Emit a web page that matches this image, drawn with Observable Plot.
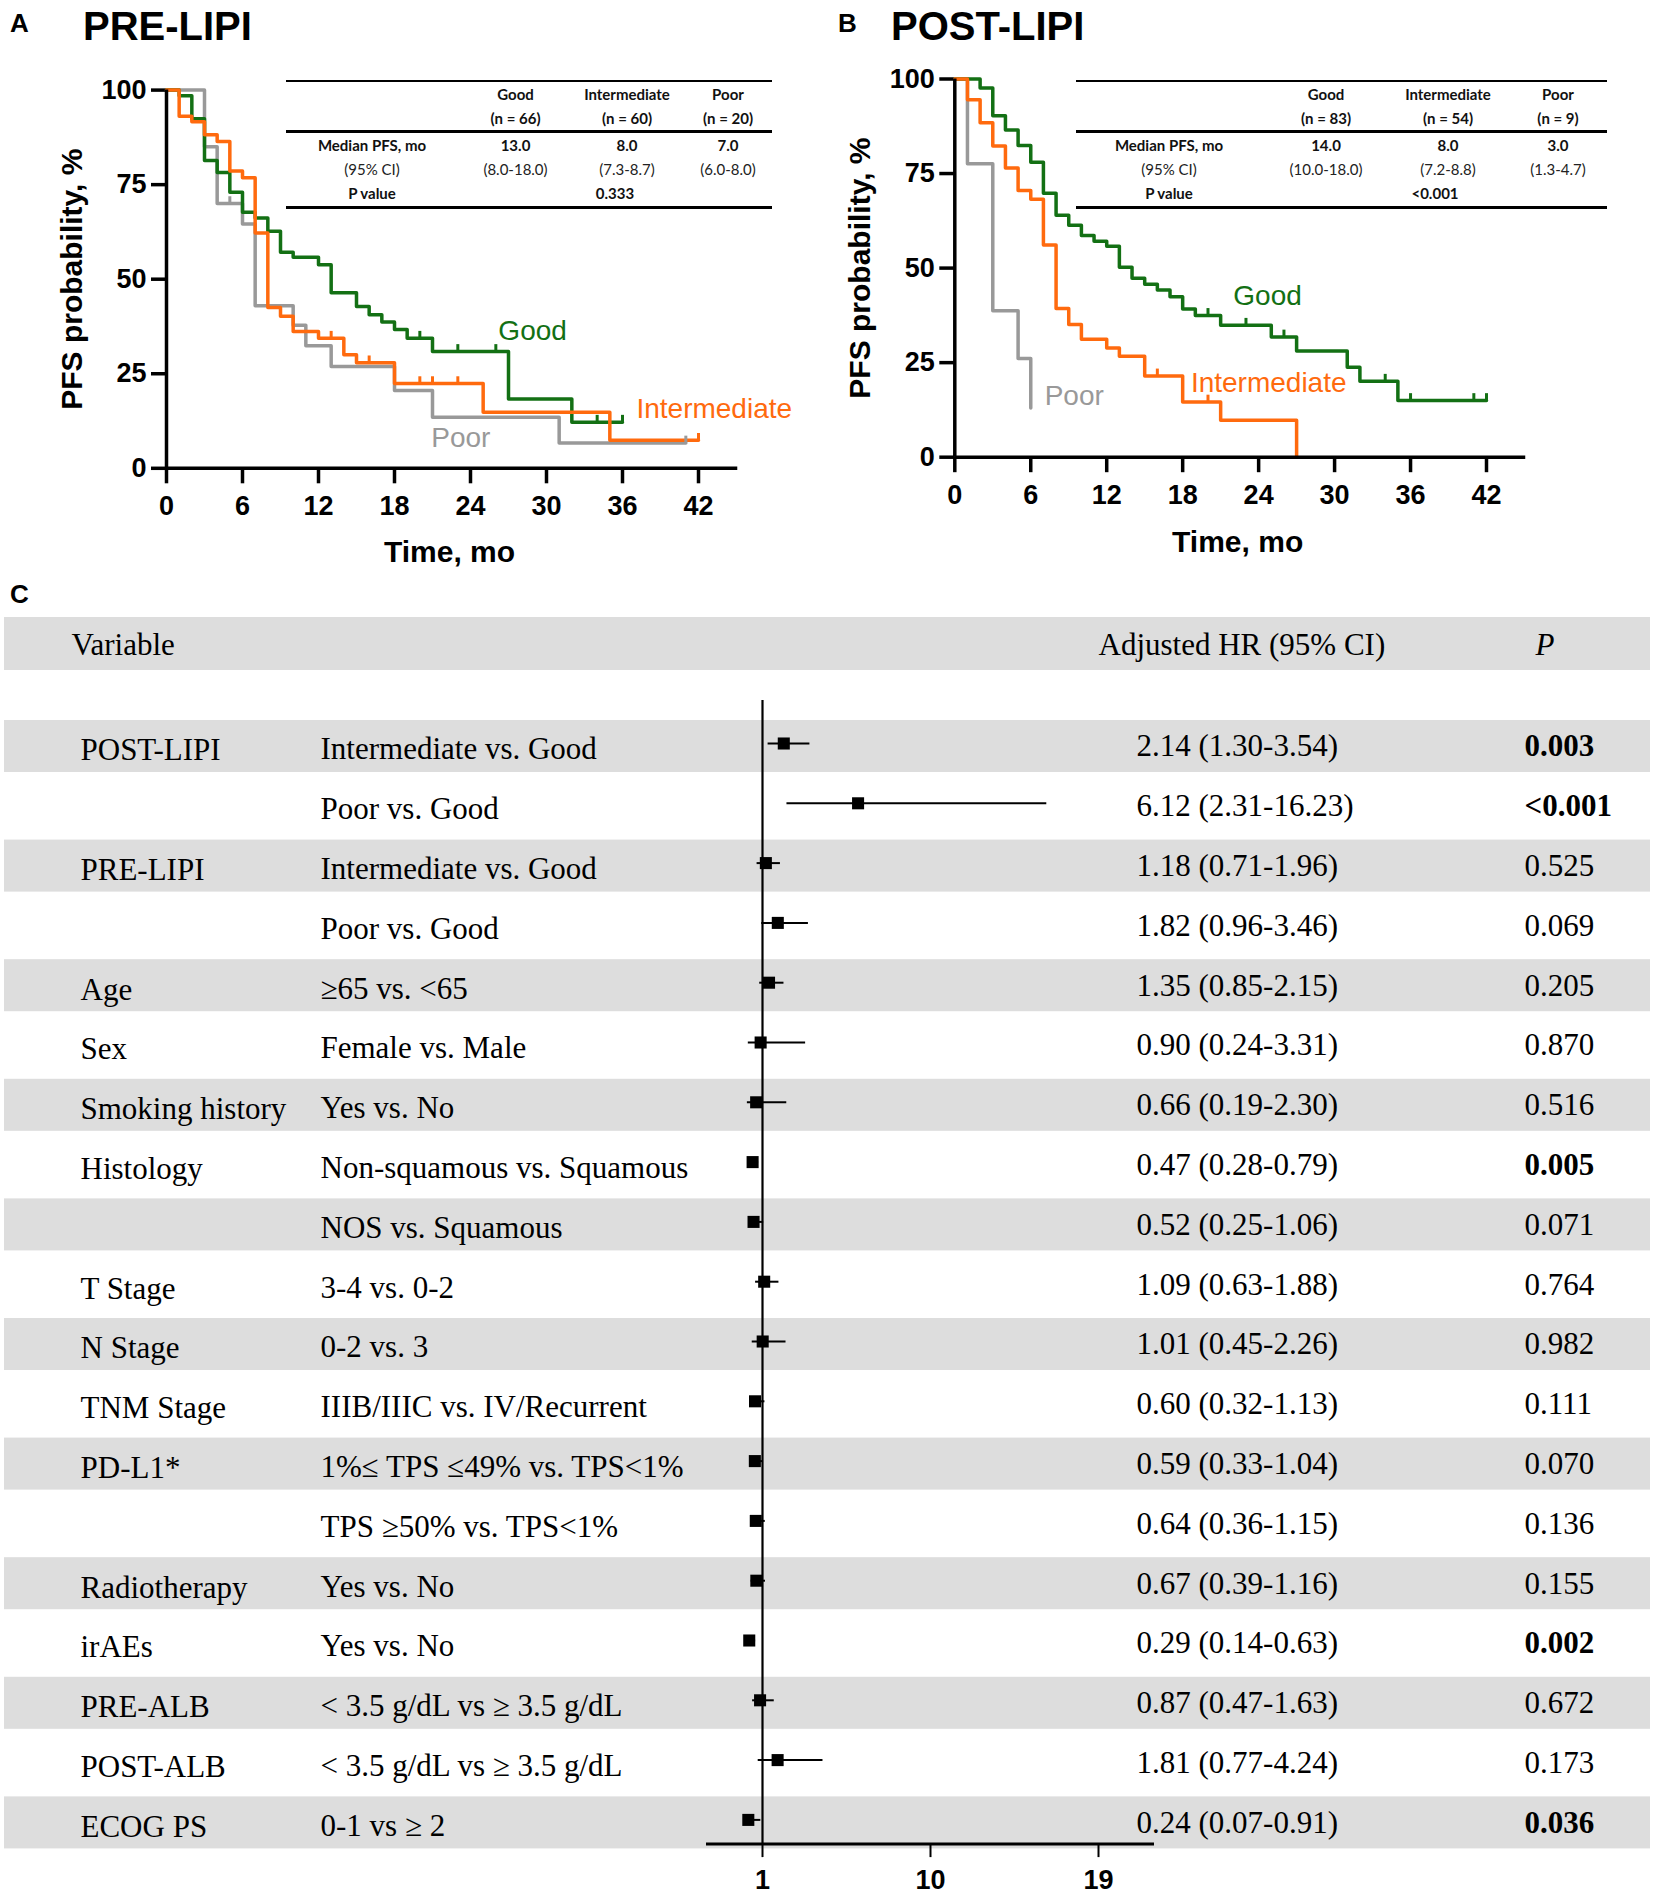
<!DOCTYPE html>
<html><head><meta charset="utf-8">
<script src="https://cdn.jsdelivr.net/npm/d3@7"></script>
<script src="https://cdn.jsdelivr.net/npm/@observablehq/plot@0.6"></script>
<style>
body{margin:0;background:#fff;}
#page{position:relative;width:1654px;height:1894px;overflow:hidden;background:#fff;}
.abs{position:absolute;white-space:nowrap;line-height:1.15;}
.wrap{position:absolute;}
.wrap svg{background:transparent !important;overflow:visible;}
.hline{position:absolute;background:#000;}
</style></head><body><div id="page"></div>
<script>
// ================= DATA =================
const kmGroups = ["Good", "Intermediate", "Poor"];

// Panel A: PRE-LIPI Kaplan-Meier steps (time in months, PFS %)
const preGoodTime = [0,1,2,3,4,5,6,7,8,9,10,12,13,15,16,17,18,19,21,27,32,36];
const preGoodSurv = [100,98.5,92.4,81.4,78.2,73.0,67.7,66.2,62.7,57.1,55.8,53.8,46.4,42.8,40.6,38.7,36.7,34.4,30.9,18.3,12.2,12.2];
const preGoodCensor = [20,23,26,34,36];
const preIntTime = [0,1,2,3,4,5,6,7,8,9,10,12,14,15,18,25,35,42];
const preIntSurv = [100,93.1,91.6,88.2,86.4,78.6,76.8,62.2,42.5,40.2,36.2,34.4,30.0,27.9,22.4,14.8,7.4,7.4];
const preIntCensor = [13,16,20,21,23,42];
const prePoorTime = [0,3,4,6,7,10,11,13,18,21,31,41];
const prePoorSurv = [100,85.0,70.0,64.6,43.0,37.8,32.4,26.9,20.6,13.5,6.7,6.7];
const prePoorCensor = [5,41];

// Panel B: POST-LIPI
const postGoodTime = [0,2,3,4,5,6,7,8,9,10,11,12,13,14,15,16,17,18,19,21,25,27,31,32,35,42];
const postGoodSurv = [100,97.6,90.3,86.5,82.4,78.0,69.8,64.0,61.3,58.6,57.1,55.8,50.2,47.3,45.7,44.2,42.4,39.2,37.5,34.9,31.8,28.1,23.8,20.1,15.0,15.0];
const postGoodCensor = [20,23,26,34,36,41,42];
const postIntTime = [0,1,2,3,4,5,6,7,8,9,10,12,13,15,18,21,27];
const postIntSurv = [100,94.5,88.4,82.3,76.5,70.5,68.2,56.1,39.3,35.1,31.2,28.9,26.7,21.5,14.6,9.8,0];
const postIntCensor = [16,20];
const postPoorTime = [0,1,3,5,6];
const postPoorSurv = [100,77.6,38.7,26.1,13.0];
const postPoorCensor = [];

// Summary tables
const preN = [66, 60, 20];
const preMedian = ["13.0", "8.0", "7.0"];
const preCI = ["(8.0-18.0)", "(7.3-8.7)", "(6.0-8.0)"];
const preP = "0.333";
const postN = [83, 54, 9];
const postMedian = ["14.0", "8.0", "3.0"];
const postCI = ["(10.0-18.0)", "(7.2-8.8)", "(1.3-4.7)"];
const postP = "<0.001";

// Panel C: multivariable Cox model
const fVariable = ["POST-LIPI","","PRE-LIPI","","Age","Sex","Smoking history","Histology","","T Stage","N Stage","TNM Stage","PD-L1*","","Radiotherapy","irAEs","PRE-ALB","POST-ALB","ECOG PS"];
const fComparison = ["Intermediate vs. Good","Poor vs. Good","Intermediate vs. Good","Poor vs. Good","≥65 vs. <65","Female vs. Male","Yes vs. No","Non-squamous vs. Squamous","NOS vs. Squamous","3-4 vs. 0-2","0-2 vs. 3","IIIB/IIIC vs. IV/Recurrent","1%≤ TPS ≤49% vs. TPS<1%","TPS ≥50% vs. TPS<1%","Yes vs. No","Yes vs. No","< 3.5 g/dL vs ≥ 3.5 g/dL","< 3.5 g/dL vs ≥ 3.5 g/dL","0-1 vs ≥ 2"];
const fHR = [2.14,6.12,1.18,1.82,1.35,0.90,0.66,0.47,0.52,1.09,1.01,0.60,0.59,0.64,0.67,0.29,0.87,1.81,0.24];
const fLow = [1.30,2.31,0.71,0.96,0.85,0.24,0.19,0.28,0.25,0.63,0.45,0.32,0.33,0.36,0.39,0.14,0.47,0.77,0.07];
const fHigh = [3.54,16.23,1.96,3.46,2.15,3.31,2.30,0.79,1.06,1.88,2.26,1.13,1.04,1.15,1.16,0.63,1.63,4.24,0.91];
const fP = ["0.003","<0.001","0.525","0.069","0.205","0.870","0.516","0.005","0.071","0.764","0.982","0.111","0.070","0.136","0.155","0.002","0.672","0.173","0.036"];
const forestTicks = [1, 10, 19];
const kmTicksX = [0,6,12,18,24,30,36,42];
const kmTicksY = [0,25,50,75,100];

// ================= STYLE / LAYOUT =================
const SANS = "Liberation Sans, Arial, Helvetica, sans-serif";
const SERIF = "Liberation Serif, Times New Roman, serif";
const TABLEFONT = "Lato, 'Open Sans', sans-serif";
const kmColors = ["#137014", "#ff6a0e", "#999999"];
const page = document.getElementById("page");

function place(text, x, y, css, anchor = "middle") {
  const d = document.createElement("div");
  d.className = "abs";
  d.textContent = text;
  d.style.left = x + "px";
  d.style.top = y + "px";
  const tx = anchor === "middle" ? "-50%" : anchor === "end" ? "-100%" : "0";
  d.style.transform = `translate(${tx},-50%)`;
  Object.assign(d.style, css);
  page.appendChild(d);
  return d;
}
function hline(x1, x2, y, w) {
  const d = document.createElement("div");
  d.className = "hline";
  Object.assign(d.style, {left: x1 + "px", top: (y - w / 2) + "px", width: (x2 - x1) + "px", height: w + "px"});
  page.appendChild(d);
}

function steps(group, T, S) { return T.map((t, i) => ({group, t, s: S[i]})); }
function censorPts(group, C, T, S) {
  return C.map(t => { let k = 0; T.forEach((tt, i) => { if (tt <= t) k = i; }); return {group, t, s: S[k]}; });
}

function kmPlot(cfg) {
  const {series, censors, labels, m, axisEnd, ylabDx, xlabDx, xlabDy} = cfg;
  return Plot.plot({
    width: 827, height: 580,
    marginLeft: m[0], marginRight: m[1], marginTop: m[2], marginBottom: m[3],
    x: {domain: [0, 42]},
    y: {domain: [0, 100]},
    color: {domain: kmGroups, range: kmColors},
    style: {background: "transparent", overflow: "visible"},
    marks: [
      Plot.axisX({ticks: kmTicksX, tickSize: 15.5, tickPadding: 12, fontSize: 27, fontWeight: "bold", fontFamily: SANS, strokeWidth: 3.5, label: null}),
      Plot.axisY({ticks: kmTicksY, tickSize: 15, tickPadding: 5, fontSize: 27, fontWeight: "bold", fontFamily: SANS, strokeWidth: 3.5, label: null}),
      Plot.line(series, {x: "t", y: "s", z: "group", stroke: "group", curve: "step-after", strokeWidth: 3.5}),
      Plot.ruleX(censors, {x: "t", y1: "s", y2: d => d.s + 1.8, stroke: "group", strokeWidth: 3}),
      Plot.ruleY([0], {x1: 0, x2: axisEnd, strokeWidth: 3.5}),
      Plot.ruleX([0], {y1: 0, y2: 100, strokeWidth: 3.5}),
      Plot.text(labels, {x: "x", y: "y", text: "group", fill: "group", textAnchor: "start", fontSize: 28, fontFamily: SANS}),
      Plot.text(["Time, mo"], {text: d => d, frameAnchor: "bottom", dx: xlabDx, dy: xlabDy, textAnchor: "middle", fontSize: 30, fontWeight: "bold", fontFamily: SANS, lineAnchor: "middle"}),
      Plot.text(["PFS probability, %"], {text: d => d, frameAnchor: "left", dx: ylabDx, rotate: -90, textAnchor: "middle", lineAnchor: "middle", fontSize: 30, fontWeight: "bold", fontFamily: SANS})
    ]
  });
}

function addPlot(svg, left, top) {
  const w = document.createElement("div");
  w.className = "wrap";
  w.style.left = left + "px"; w.style.top = top + "px";
  w.appendChild(svg);
  page.appendChild(w);
}

// ---------- Panel A ----------
const preSeries = [...steps("Poor", prePoorTime, prePoorSurv), ...steps("Good", preGoodTime, preGoodSurv), ...steps("Intermediate", preIntTime, preIntSurv)];
const preCensors = [...censorPts("Poor", prePoorCensor, prePoorTime, prePoorSurv), ...censorPts("Good", preGoodCensor, preGoodTime, preGoodSurv), ...censorPts("Intermediate", preIntCensor, preIntTime, preIntSurv)];
addPlot(kmPlot({
  series: preSeries, censors: preCensors,
  labels: [{group: "Good", x: 26.2, y: 36.4}, {group: "Intermediate", x: 37.1, y: 15.8}, {group: "Poor", x: 20.9, y: 8.0}],
  m: [166, 129, 89.6, 112.2], axisEnd: 45.1, ylabDx: -94.4, xlabDx: 17, xlabDy: 84
}), 0, 0);

// ---------- Panel B ----------
const postSeries = [...steps("Poor", postPoorTime, postPoorSurv), ...steps("Good", postGoodTime, postGoodSurv), ...steps("Intermediate", postIntTime, postIntSurv)];
const postCensors = [...censorPts("Good", postGoodCensor, postGoodTime, postGoodSurv), ...censorPts("Intermediate", postIntCensor, postIntTime, postIntSurv)];
addPlot(kmPlot({
  series: postSeries, censors: postCensors,
  labels: [{group: "Good", x: 22.0, y: 42.6}, {group: "Intermediate", x: 18.65, y: 19.6}, {group: "Poor", x: 7.1, y: 16.3}],
  m: [127.3, 168, 78.5, 123.3], axisEnd: 45.1, ylabDx: -94.4, xlabDx: 17, xlabDy: 84.8
}), 827, 0);

// Titles
const titleCss = {fontFamily: SANS, fontWeight: "bold", color: "#000"};
place("A", 10, 24, {...titleCss, fontSize: "26px"}, "start");
place("PRE-LIPI", 83, 26, {...titleCss, fontSize: "40px"}, "start");
place("B", 838, 24, {...titleCss, fontSize: "26px"}, "start");
place("POST-LIPI", 891, 26, {...titleCss, fontSize: "40px"}, "start");
place("C", 10, 595, {...titleCss, fontSize: "26px"}, "start");

// KM summary tables
function kmTable(x1, x2, colX, labelX, pX, n, med, ci, p) {
  hline(x1, x2, 81, 2.6); hline(x1, x2, 131.5, 2.2); hline(x1, x2, 207.5, 2.6);
  const b = {fontFamily: TABLEFONT, fontSize: "15px", fontWeight: "bold", color: "#111"};
  const r = {fontFamily: TABLEFONT, fontSize: "15px", fontWeight: "normal", color: "#222"};
  kmGroups.forEach((g, i) => {
    place(g, colX[i], 95, b);
    place(`(n = ${n[i]})`, colX[i], 118.5, b);
    place(med[i], colX[i], 146, b);
    place(ci[i], colX[i], 170, r);
  });
  place("Median PFS, mo", labelX, 146, b);
  place("(95% CI)", labelX, 170, r);
  place("P value", labelX, 194, b);
  place(p, pX, 194, b);
}
kmTable(286, 772, [515.5, 627, 728], 372, 615, preN, preMedian, preCI, preP);
kmTable(1076, 1607, [1326, 1448, 1558], 1169, 1435, postN, postMedian, postCI, postP);

// ---------- Panel C ----------
const cTop = 600, cH = 1294, rowStart = 146, pitch = 59.8;
const rowOf = px => (px - cTop - rowStart) / pitch;
const rows = fHR.map((hr, i) => ({i, variable: fVariable[i], comparison: fComparison[i], hr, lo: fLow[i], hi: fHigh[i],
  hrText: `${hr.toFixed(2)} (${fLow[i].toFixed(2)}-${fHigh[i].toFixed(2)})`, p: fP[i], sig: parseFloat(fP[i].replace("<", "")) < 0.05}));
const bandRows = rows.filter(d => d.i % 2 === 0);
const axisRow = rowOf(1843.6);
const headRow = rowOf(644.8);
const serifText = {fontFamily: SERIF, fontSize: 31, fill: "#000", lineAnchor: "middle", textAnchor: "start", frameAnchor: "left"};

const forest = Plot.plot({
  width: 1654, height: cH,
  marginLeft: 4, marginRight: 4, marginTop: 17, marginBottom: cH - (1843.6 - cTop),
  x: {domain: [-2, 22], range: [706, 1154]},
  y: {domain: [0, 18], range: [rowStart, rowStart + 18 * pitch], axis: null},
  style: {background: "transparent", overflow: "visible"},
  marks: [
    Plot.rect([0], {y1: rowOf(617), y2: rowOf(670), fill: "#dddddd"}),
    Plot.rect(bandRows, {y1: d => d.i - 0.435, y2: d => d.i + 0.435, fill: "#dddddd"}),
    Plot.text(["Variable"], {...serifText, text: d => d, y: headRow, dx: 67}),
    Plot.text(["Adjusted HR (95% CI)"], {...serifText, text: d => d, y: headRow, dx: 1094}),
    Plot.text(["P"], {...serifText, text: d => d, y: headRow, dx: 1531, fontStyle: "italic"}),
    Plot.text(rows, {...serifText, text: "variable", y: "i", dx: 76, dy: 4}),
    Plot.text(rows, {...serifText, text: "comparison", y: "i", dx: 316, dy: 3}),
    Plot.text(rows, {...serifText, text: "hrText", y: "i", dx: 1132}),
    Plot.text(rows.filter(d => !d.sig), {...serifText, text: "p", y: "i", dx: 1520}),
    Plot.text(rows.filter(d => d.sig), {...serifText, text: "p", y: "i", dx: 1520, fontWeight: "bold"}),
    Plot.ruleX([1], {y1: rowOf(700), y2: axisRow, strokeWidth: 2.2}),
    Plot.ruleY([axisRow], {x1: -2, x2: 22, strokeWidth: 3}),
    Plot.axisX({ticks: forestTicks, tickSize: 13.5, tickPadding: 12, fontSize: 27, fontWeight: "bold", fontFamily: SANS, strokeWidth: 2, label: null}),
    Plot.ruleY(rows, {y: "i", x1: "lo", x2: "hi", strokeWidth: 2, dy: -3}),
    Plot.dot(rows, {x: "hr", y: "i", symbol: "square", r: 6.8, fill: "#000", stroke: null, dy: -3})
  ]
});
addPlot(forest, 0, cTop);
</script></body></html>
